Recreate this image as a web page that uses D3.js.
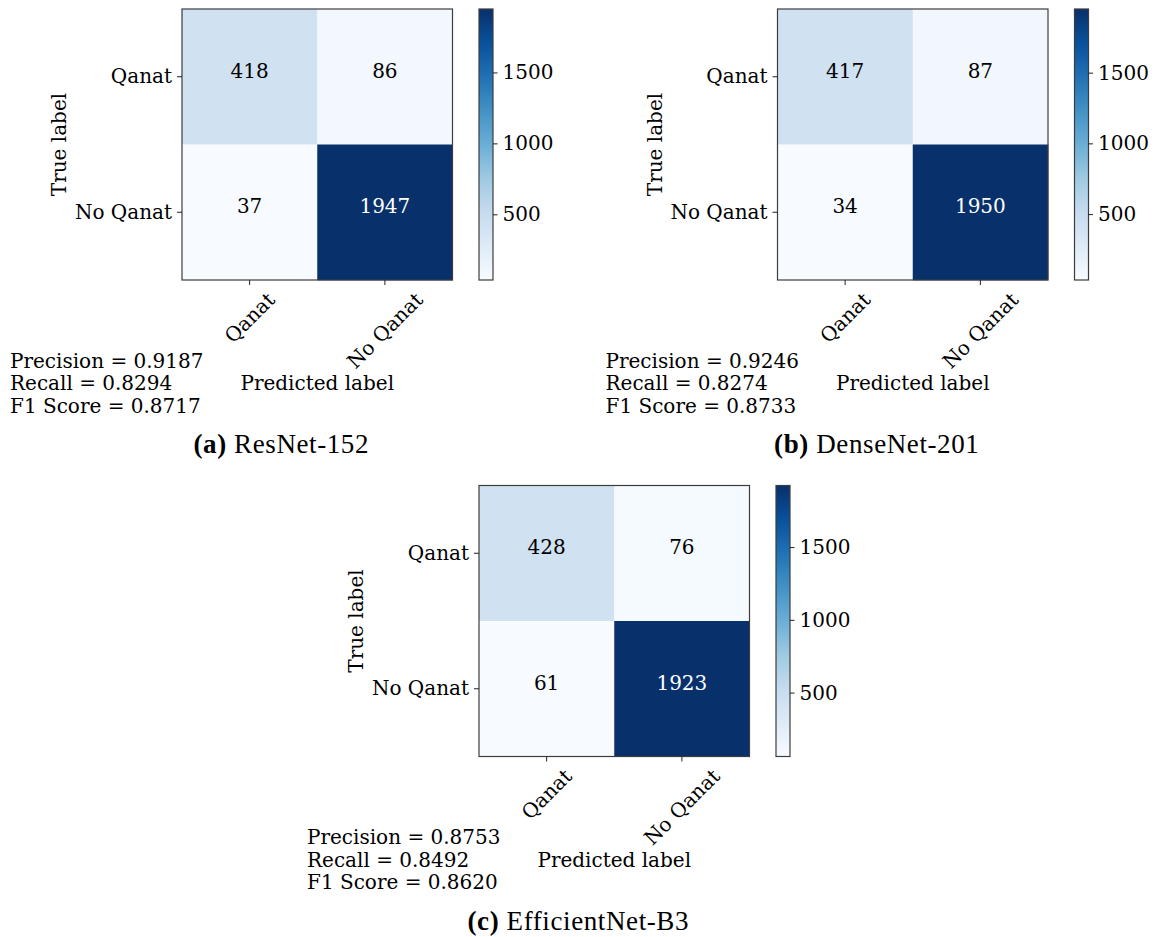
<!DOCTYPE html>
<html><head><meta charset="utf-8">
<script src="https://cdn.jsdelivr.net/npm/d3@7"></script>
<style>body{margin:0;background:#fff}</style>
</head><body><svg id="c" width="1155" height="937" xmlns="http://www.w3.org/2000/svg"></svg>
<script>
// ---- data ----
const classLabels = ["Qanat", "No Qanat"];
const modelNames = ["ResNet-152", "DenseNet-201", "EfficientNet-B3"];
const panelTags = ["(a)", "(b)", "(c)"];
const resnetCounts = [[418, 86], [37, 1947]];
const densenetCounts = [[417, 87], [34, 1950]];
const efficientnetCounts = [[428, 76], [61, 1923]];
const precisionScores = [0.9187, 0.9246, 0.8753];
const recallScores = [0.8294, 0.8274, 0.8492];
const f1Scores = [0.8717, 0.8733, 0.8620];
const colorbarTicks = [500, 1000, 1500];
const bluesPalette = ["#f7fbff","#deebf7","#c6dbef","#9ecae1","#6baed6","#4292c6","#2171b5","#08519c","#08306b"];

// ---- layout ----
const matrices = [resnetCounts, densenetCounts, efficientnetCounts];
const panelOrigins = [[182, 9], [777.5, 9], [479, 485.5]];
const W = 270.5, H = 271;
const FS = 20;
const FONT = "'DejaVu Serif', serif";
const CAPFONT = "'Liberation Serif', 'Times New Roman', serif";

const svg = d3.select("#c");
const defs = svg.append("defs");
const grad = defs.append("linearGradient").attr("id", "blues")
  .attr("x1", 0).attr("y1", 1).attr("x2", 0).attr("y2", 0);
bluesPalette.forEach((c, k) => grad.append("stop")
  .attr("offset", k / (bluesPalette.length - 1)).attr("stop-color", c));

// measuring helper
const meas = svg.append("text").attr("font-family", FONT).attr("font-size", FS).attr("visibility", "hidden");
function textW(s) { meas.text(s); return meas.node().getComputedTextLength(); }

matrices.forEach((m, i) => {
  const [ox, oy] = panelOrigins[i];
  const g = svg.append("g").attr("transform", `translate(${ox},${oy})`);
  const x = d3.scaleBand().domain(classLabels).range([0, W]);
  const y = d3.scaleBand().domain(classLabels).range([0, H]);
  const flat = [];
  m.forEach((row, r) => row.forEach((v, c) => flat.push({ t: classLabels[r], p: classLabels[c], v })));
  const vmin = d3.min(flat, d => d.v), vmax = d3.max(flat, d => d.v);
  const color = d3.scaleLinear()
    .domain(bluesPalette.map((_, k) => vmin + (vmax - vmin) * k / (bluesPalette.length - 1)))
    .range(bluesPalette).interpolate(d3.interpolateRgb);

  g.selectAll("rect.cell").data(flat).join("rect").attr("class", "cell")
    .attr("x", d => x(d.p)).attr("y", d => y(d.t))
    .attr("width", x.bandwidth() + 0.3).attr("height", y.bandwidth() + 0.3)
    .attr("fill", d => color(d.v));
  g.selectAll("text.val").data(flat).join("text").attr("class", "val")
    .attr("x", d => x(d.p) + x.bandwidth() / 2)
    .attr("y", d => y(d.t) + y.bandwidth() / 2 + 0.8)
    .attr("text-anchor", "middle")
    .attr("font-family", FONT).attr("font-size", FS)
    .attr("fill", d => d.v > vmax / 2 ? "#ffffff" : "#000000")
    .text(d => d.v);
  g.append("rect").attr("x", 0).attr("y", 0).attr("width", W).attr("height", H)
    .attr("fill", "none").attr("stroke", "#3c3c3c").attr("stroke-width", 1.2);

  // y axis
  const ya = g.append("g").call(d3.axisLeft(y).tickSize(5).tickPadding(5));
  ya.select(".domain").remove();
  ya.selectAll("line").attr("stroke", "#222");
  ya.selectAll("text").attr("font-family", FONT).attr("font-size", FS).attr("fill", "#000");

  // x axis
  const xa = g.append("g").attr("transform", `translate(0,${H})`)
    .call(d3.axisBottom(x).tickSize(5).tickFormat(""));
  xa.select(".domain").remove();
  xa.selectAll("line").attr("stroke", "#222");
  const lh = 1.164 * FS;
  classLabels.forEach(lbl => {
    const w = textW(lbl);
    const bh = (w + lh) * Math.SQRT1_2;
    const cx = x(lbl) + x.bandwidth() / 2;
    const cy = H + 8 + bh / 2;
    g.append("text").attr("transform", `translate(${cx},${cy}) rotate(-45)`)
      .attr("text-anchor", "middle").attr("dy", "0.346em")
      .attr("font-family", FONT).attr("font-size", FS).attr("fill", "#000")
      .text(lbl);
  });

  // axis labels
  g.append("text").attr("transform", `translate(-116,${H / 2}) rotate(-90)`)
    .attr("text-anchor", "middle").attr("font-family", FONT).attr("font-size", FS)
    .text("True label");
  g.append("text").attr("x", W / 2).attr("y", H + 110)
    .attr("text-anchor", "middle").attr("font-family", FONT).attr("font-size", FS)
    .text("Predicted label");

  // colorbar
  const cb = g.append("g").attr("transform", `translate(${W + 26.5},0)`);
  cb.append("rect").attr("width", 14).attr("height", H).attr("fill", "url(#blues)")
    .attr("stroke", "#3c3c3c").attr("stroke-width", 1.2);
  const cs = d3.scaleLinear().domain([vmin, vmax]).range([H, 0]);
  const ca = cb.append("g").attr("transform", "translate(14,0)")
    .call(d3.axisRight(cs).tickValues(colorbarTicks).tickSize(4.5).tickPadding(5).tickFormat(d3.format("d")));
  ca.select(".domain").remove();
  ca.selectAll("line").attr("stroke", "#222");
  ca.selectAll("text").attr("font-family", FONT).attr("font-size", FS).attr("fill", "#000");

  // metrics
  const metrics = [
    `Precision = ${precisionScores[i].toFixed(4)}`,
    `Recall = ${recallScores[i].toFixed(4)}`,
    `F1 Score = ${f1Scores[i].toFixed(4)}`
  ];
  metrics.forEach((s, k) => g.append("text").attr("x", -172).attr("y", H + 87.5 + k * 22.5)
    .attr("font-family", FONT).attr("font-size", FS).attr("fill", "#000").text(s));

  // caption
  const cap = g.append("text").attr("x", W / 2 - 36).attr("y", H + 173)
    .attr("text-anchor", "middle").attr("font-family", CAPFONT).attr("font-size", 27)
    .attr("letter-spacing", 0.6).attr("fill", "#000");
  cap.append("tspan").attr("font-weight", "bold").text(panelTags[i]);
  cap.append("tspan").text("\u00a0" + modelNames[i]);
});
meas.remove();
</script></body></html>
